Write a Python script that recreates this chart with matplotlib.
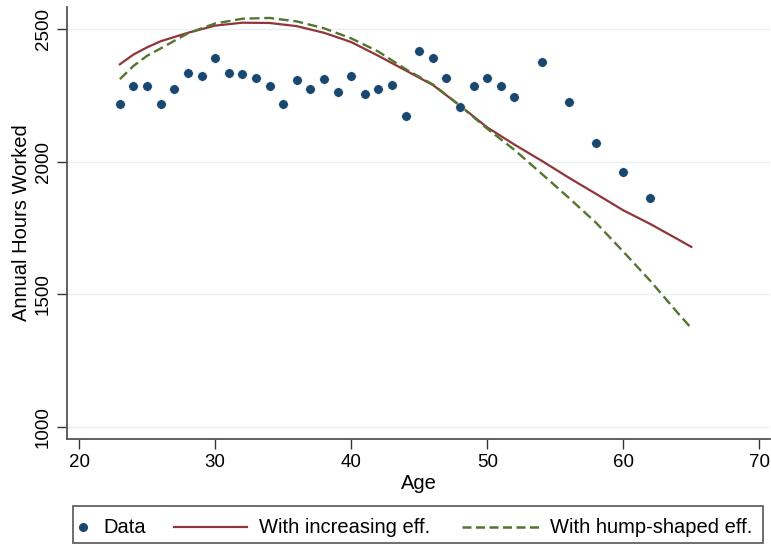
#!/usr/bin/env python3
"""Annual hours worked by age: data vs two model profiles."""

import matplotlib

matplotlib.use("Agg")
import matplotlib.pyplot as plt
from matplotlib.lines import Line2D
from matplotlib.patches import Rectangle

# data points
data_age = [23, 24, 25, 26, 27, 28, 29, 30, 31, 32, 33, 34, 35, 36, 37, 38, 39, 40,
            41, 42, 43, 44, 45, 46, 47, 48, 49, 50, 51, 52, 54, 56, 58, 60, 62]
data_hours = [2220, 2285, 2285, 2220, 2276, 2336, 2322, 2391, 2336, 2331, 2317, 2285,
              2220, 2309, 2276, 2314, 2262, 2322, 2257, 2276, 2290, 2174, 2419, 2391,
              2317, 2206, 2285, 2317, 2285, 2244, 2376, 2225, 2072, 1961, 1865]

# model profiles
model_age = [23, 24, 25, 26, 28, 30, 32, 34, 36, 38, 40, 42, 44, 46, 48, 50, 52,
             54, 56, 58, 60, 62, 64, 65]
incr_eff = [2368, 2405, 2432, 2455, 2487, 2514, 2525, 2524, 2512, 2487, 2452, 2400,
            2345, 2290, 2212, 2130, 2065, 2004, 1940, 1879, 1817, 1765, 1708, 1679]
hump_eff = [2312, 2362, 2400, 2428, 2485, 2522, 2540, 2543, 2530, 2504, 2466, 2416,
            2350, 2292, 2212, 2125, 2045, 1955, 1864, 1770, 1661, 1550, 1430, 1372]

x_ticks = [20, 30, 40, 50, 60, 70]
y_ticks = [1000, 1500, 2000, 2500]
labels = ["Data", "With increasing eff.", "With hump-shaped eff."]

NAVY = "#1a476f"
MAROON = "#90353b"
FOREST = "#55752f"
W, H = 771, 544

plt.rcParams["font.family"] = ["Liberation Sans", "DejaVu Sans"]


def fpos(x, y):
    """pixel position (from top-left) -> figure fraction"""
    return x / W, 1 - y / H


fig = plt.figure(figsize=(W / 100, H / 100), dpi=100)
ax = fig.add_axes([0.087, 0.193, 0.912, 0.794])

ax.plot(data_age, data_hours, "o", color=NAVY, ms=6.8, mec="white", mew=0.3, zorder=3)
ax.plot(model_age, incr_eff, "-", color=MAROON, lw=1.6)
ax.plot(model_age, hump_eff, "--", color=FOREST, lw=1.7, dashes=(4.2, 2.0))

ax.set_xlim(19.12, 70.8)
ax.set_ylim(954, 2584)
ax.set_xticks(x_ticks)
ax.set_yticks(y_ticks)
ax.tick_params(axis="both", length=7, width=1.0, color="#333333", labelsize=13.5, pad=4)
for lbl in ax.get_yticklabels():
    lbl.set_rotation(90)
    lbl.set_va("center")
ax.grid(axis="y", color="#e8f0f0", lw=1.0)
ax.set_axisbelow(True)

for side in ["top", "right"]:
    ax.spines[side].set_visible(False)
for side in ["left", "bottom"]:
    ax.spines[side].set_color("#555555")
    ax.spines[side].set_linewidth(1.3)

ax.set_xlabel("Age", fontsize=14.5, labelpad=2)
ax.set_ylabel("Annual Hours Worked", fontsize=14.5, labelpad=3)

# legend box laid out like the Stata one (marker entry is narrower than the line entries)
x0, y0 = fpos(73, 543)
x1, y1 = fpos(763, 506)
fig.add_artist(Rectangle((x0, y0), x1 - x0, y1 - y0, transform=fig.transFigure,
                         fill=False, edgecolor="#555555", lw=1.2))
ly = 527
fig.add_artist(Line2D(*zip(fpos(83, ly)), transform=fig.transFigure, marker="o",
                      ls="none", color=NAVY, ms=5.5))
fig.add_artist(Line2D(*zip(fpos(174, ly), fpos(247, ly)), transform=fig.transFigure,
                      color=MAROON, lw=1.6))
fig.add_artist(Line2D(*zip(fpos(462, ly), fpos(540, ly)), transform=fig.transFigure,
                      color=FOREST, lw=1.8, ls="--", dashes=(3.6, 1.8)))
for xt, txt in zip([103, 259, 550], labels):
    fig.text(*fpos(xt, 533), txt, fontsize=14.5, ha="left", va="baseline")

fig.savefig("out.png", dpi=100)
